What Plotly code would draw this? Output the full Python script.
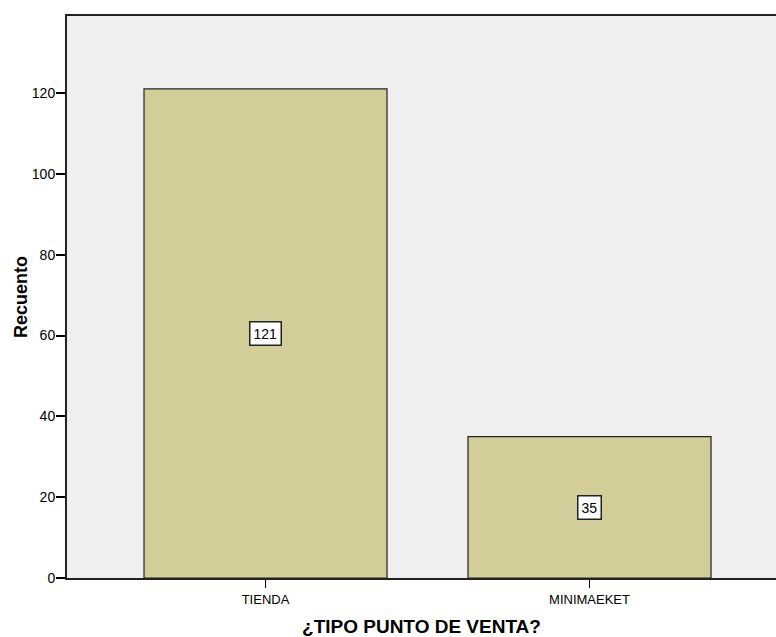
import plotly.graph_objects as go

# Counts per point-of-sale type
categories = ["TIENDA", "MINIMAEKET"]
counts = [121, 35]

fig = go.Figure()
fig.add_trace(go.Bar(
    x=[0, 1],
    y=counts,
    width=0.75,
    marker=dict(color="#d3ce99", line=dict(color="#222222", width=1.2)),
    hoverinfo="skip",
))

# Boxed count labels placed at mid-height of each bar
for i, v in enumerate(counts):
    fig.add_annotation(
        x=i, y=v / 2, text=str(v), showarrow=False,
        font=dict(family="Arial, Liberation Sans", size=14, color="black"),
        bgcolor="white", bordercolor="#222222", borderwidth=1.5, borderpad=3,
    )

fig.update_layout(
    width=776, height=637,
    margin=dict(l=67, r=0, t=16, b=59),
    paper_bgcolor="white",
    plot_bgcolor="#efefef",
    showlegend=False,
    font=dict(family="Arial, Liberation Sans", size=12, color="black"),
)

fig.update_xaxes(
    range=[-0.6127, 1.5756],
    tickvals=[0, 1], ticktext=categories,
    ticks="outside", ticklen=8, tickwidth=1.2, tickcolor="black",
    tickfont=dict(size=13),
    showline=True, linecolor="#222222", linewidth=2, mirror=True,
    showgrid=False, zeroline=False,
    title=dict(text="<b>¿TIPO PUNTO DE VENTA?</b>", font=dict(size=19), standoff=14),
)
fig.update_yaxes(
    range=[0, 139.05],
    tickvals=[0, 20, 40, 60, 80, 100, 120],
    ticks="outside", ticklen=9, tickwidth=2, tickcolor="black",
    tickfont=dict(size=14), ticklabelstandoff=-2,
    showline=True, linecolor="#222222", linewidth=2,
    showgrid=False, zeroline=False,
    title=dict(text="<b>Recuento</b>", font=dict(size=18), standoff=0),
)

fig.write_html("out.html")
